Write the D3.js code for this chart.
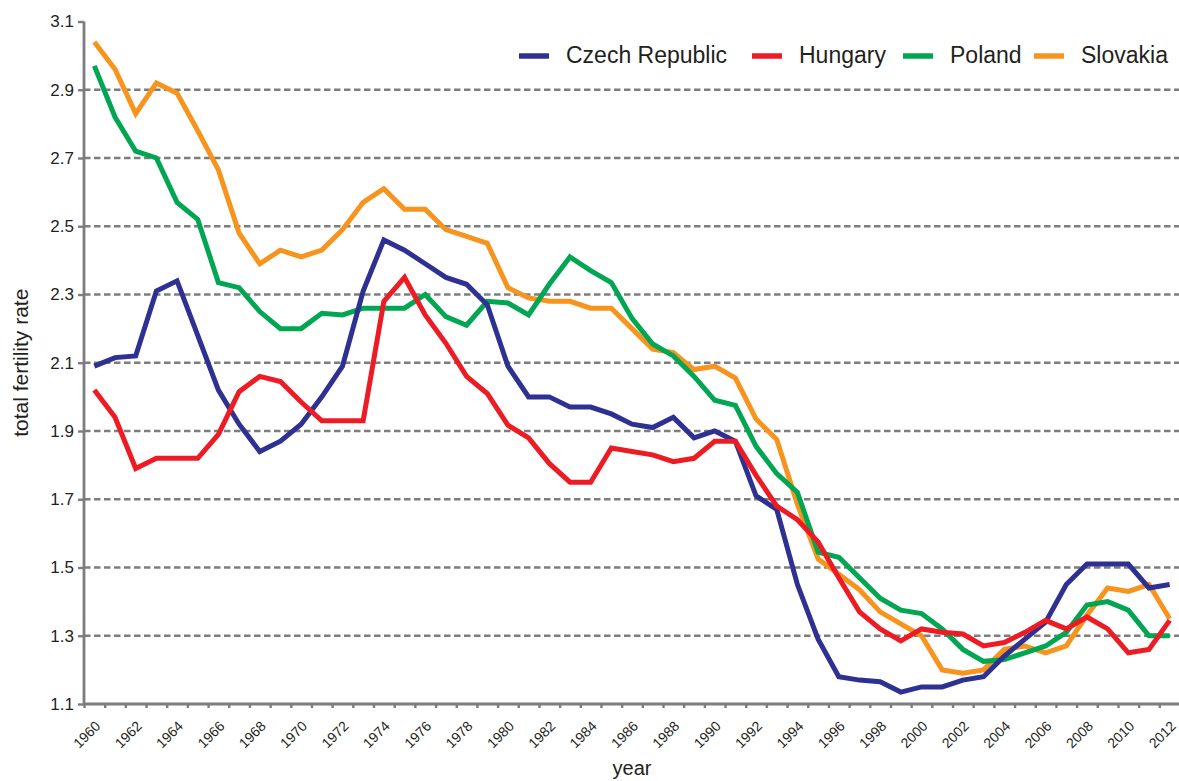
<!DOCTYPE html>
<html>
<head>
<meta charset="utf-8">
<script src="https://cdnjs.cloudflare.com/ajax/libs/d3/7.8.5/d3.min.js"></script>
<style>
  body { margin: 0; background: #fff; }
  svg { display: block; font-family: "Liberation Sans", Arial, sans-serif; }
</style>
</head>
<body>
<div class="chart"></div>
<script>
// years on the x axis
var firstYear = 1960;
var lastYear = 2012;
var years = d3.range(firstYear, lastYear + 1);

// total fertility rate, one value per year 1960..2012
var czech = [2.09, 2.115, 2.12, 2.31, 2.34, 2.18, 2.02, 1.92, 1.84, 1.87,
  1.92, 2.0, 2.09, 2.31, 2.46, 2.43, 2.39, 2.35, 2.33, 2.27,
  2.09, 2.0, 2.0, 1.97, 1.97, 1.95, 1.92, 1.91, 1.94, 1.88,
  1.9, 1.87, 1.71, 1.67, 1.45, 1.29, 1.18, 1.17, 1.165, 1.135,
  1.15, 1.15, 1.17, 1.18, 1.24, 1.29, 1.34, 1.45, 1.51, 1.51,
  1.51, 1.44, 1.45];

var hungary = [2.02, 1.94, 1.79, 1.82, 1.82, 1.82, 1.89, 2.015, 2.06, 2.045,
  1.985, 1.93, 1.93, 1.93, 2.28, 2.35, 2.24, 2.157, 2.06, 2.01,
  1.917, 1.88, 1.805, 1.75, 1.75, 1.85, 1.84, 1.83, 1.81, 1.82,
  1.87, 1.87, 1.77, 1.68, 1.64, 1.575, 1.47, 1.37, 1.32, 1.285,
  1.32, 1.31, 1.305, 1.27, 1.28, 1.31, 1.345, 1.32, 1.355, 1.32,
  1.25, 1.26, 1.345];

var poland = [2.97, 2.82, 2.72, 2.7, 2.57, 2.52, 2.335, 2.32, 2.25, 2.2,
  2.2, 2.245, 2.24, 2.26, 2.26, 2.26, 2.3, 2.235, 2.21, 2.28,
  2.275, 2.24, 2.33, 2.41, 2.37, 2.335, 2.23, 2.155, 2.12, 2.06,
  1.99, 1.975, 1.855, 1.775, 1.72, 1.545, 1.53, 1.47, 1.41, 1.375,
  1.365, 1.32, 1.26, 1.225, 1.23, 1.25, 1.27, 1.31, 1.39, 1.4,
  1.375, 1.3, 1.3];

var slovakia = [3.04, 2.96, 2.83, 2.92, 2.89, 2.78, 2.665, 2.48, 2.39, 2.43,
  2.41, 2.43, 2.49, 2.57, 2.61, 2.55, 2.55, 2.49, 2.47, 2.45,
  2.32, 2.29, 2.28, 2.28, 2.26, 2.26, 2.2, 2.14, 2.13, 2.08,
  2.09, 2.055, 1.935, 1.875, 1.685, 1.525, 1.48, 1.435, 1.37, 1.335,
  1.3, 1.2, 1.19, 1.2, 1.26, 1.27, 1.25, 1.27, 1.36, 1.44,
  1.43, 1.45, 1.35];

// y ticks and the labelled years
var yTicks = [1.1, 1.3, 1.5, 1.7, 1.9, 2.1, 2.3, 2.5, 2.7, 2.9, 3.1];
var yearLabels = d3.range(firstYear, lastYear + 1, 2);

// legend order; drawing order is back to front below
var seriesNames = ["Czech Republic", "Hungary", "Poland", "Slovakia"];
var seriesColors = ["#2e3192", "#ed1c24", "#00a651", "#f7941d"];
var seriesValues = [czech, hungary, poland, slovakia];
var drawOrder = [3, 2, 0, 1];

var svgWidth = 1179;
var svgHeight = 781;
var axisGrey = "#7d7d7d";
var textColor = "#231f20";

var svg = d3
  .select(".chart")
  .append("svg")
  .attr("width", svgWidth)
  .attr("height", svgHeight);

// x is continuous in years so the ticks can sit between the points
var x = d3.scaleLinear()
  .domain([firstYear - 0.5, lastYear + 0.5])
  .range([84, 1180]);

var y = d3.scaleLinear()
  .domain([1.1, 3.1])
  .range([704, 21.5]);

// dashed gridlines
svg.append("g")
  .selectAll("line")
  .data(yTicks.filter((t) => t > 1.1 && t < 3.1))
  .enter()
  .append("line")
  .attr("x1", x.range()[0])
  .attr("x2", svgWidth)
  .attr("y1", (d) => y(d))
  .attr("y2", (d) => y(d))
  .attr("stroke", axisGrey)
  .attr("stroke-width", 2.5)
  .attr("stroke-dasharray", "6.5,3.5");

// left axis
var leftAxis = d3.axisLeft(y)
  .tickValues(yTicks)
  .tickFormat(d3.format(".1f"))
  .tickSize(6)
  .tickPadding(4);

var yAxis = svg.append("g")
  .attr("transform", `translate(${x.range()[0]},0)`)
  .call(leftAxis);

yAxis.select(".domain").remove();
yAxis.selectAll(".tick line")
  .attr("stroke", axisGrey)
  .attr("stroke-width", 2.4);
yAxis.selectAll("text")
  .attr("fill", textColor)
  .style("font-size", "17px");

svg.append("line")
  .attr("x1", x.range()[0])
  .attr("x2", x.range()[0])
  .attr("y1", y(3.1))
  .attr("y2", y(1.1))
  .attr("stroke", axisGrey)
  .attr("stroke-width", 2.8);

// bottom axis, ticks between the years
var bottomAxis = d3.axisBottom(x)
  .tickValues(d3.range(firstYear - 0.5, lastYear + 1))
  .tickFormat("")
  .tickSize(4)
  .tickSizeOuter(0);

var xAxis = svg.append("g")
  .attr("transform", `translate(0,${y(1.1)})`)
  .call(bottomAxis);

xAxis.select(".domain").remove();
xAxis.selectAll(".tick line")
  .attr("stroke", axisGrey)
  .attr("stroke-width", 2.4);

svg.append("line")
  .attr("x1", x.range()[0])
  .attr("x2", svgWidth)
  .attr("y1", y(1.1))
  .attr("y2", y(1.1))
  .attr("stroke", axisGrey)
  .attr("stroke-width", 2.8);

// rotated year labels
svg.append("g")
  .selectAll("text")
  .data(yearLabels)
  .enter()
  .append("text")
  .attr("transform", (d) => `translate(${x(d) + 7},${y(1.1) + 23}) rotate(-45)`)
  .attr("text-anchor", "end")
  .attr("fill", textColor)
  .style("font-size", "14px")
  .text((d) => d);

// the lines
var line = d3.line()
  .x((d, i) => x(years[i]))
  .y((d) => y(d));

svg.append("g")
  .selectAll("path")
  .data(drawOrder)
  .enter()
  .append("path")
  .attr("d", (k) => line(seriesValues[k]))
  .attr("fill", "none")
  .attr("stroke", (k) => seriesColors[k])
  .attr("stroke-width", 5)
  .attr("stroke-linejoin", "miter");

// axis titles
svg.append("text")
  .attr("x", (x.range()[0] + x.range()[1]) / 2)
  .attr("y", 775)
  .attr("text-anchor", "middle")
  .attr("fill", textColor)
  .style("font-size", "20px")
  .text("year");

svg.append("text")
  .attr("transform", `translate(28,${(y(3.1) + y(1.1)) / 2}) rotate(-90)`)
  .attr("text-anchor", "middle")
  .attr("fill", textColor)
  .style("font-size", "21px")
  .text("total fertility rate");

// legend, top right
var legendX = [519, 752, 903, 1034];
var legend = svg.append("g");

seriesNames.forEach(function (name, i) {
  legend.append("line")
    .attr("x1", legendX[i])
    .attr("x2", legendX[i] + 30)
    .attr("y1", 56)
    .attr("y2", 56)
    .attr("stroke", seriesColors[i])
    .attr("stroke-width", 5.5);

  legend.append("text")
    .attr("x", legendX[i] + 47)
    .attr("y", 63)
    .attr("fill", textColor)
    .style("font-size", "23px")
    .text(name);
});
</script>
</body>
</html>
